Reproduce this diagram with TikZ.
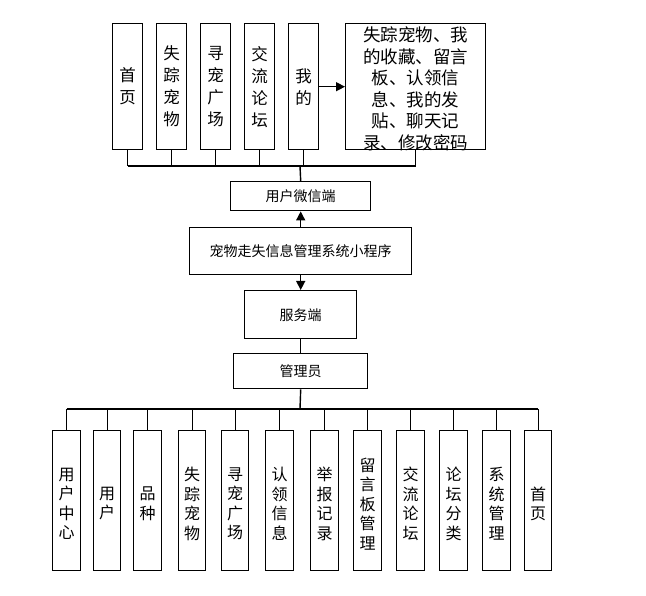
\documentclass[tikz,border=0pt]{standalone}
\usepackage{fontspec}
\setmainfont{Noto Sans CJK SC}
\usetikzlibrary{arrows.meta}
\begin{document}
\begin{tikzpicture}[x=1pt,y=-1pt,
  box/.style={draw,line width=1.4pt,inner sep=0pt,anchor=north west,align=center},
  vbox/.style={box},
  hbox/.style={box,font=\fontsize{14}{16}\selectfont},
  ln/.style={line width=1.4pt},
  ar/.style={line width=1.4pt,-{Triangle[length=9pt,width=9pt]}}]
\useasboundingbox (0,0) rectangle (646,596);
% top
\foreach \n/\x/\t in {t1/112/首\\页,t2/156/失\\踪\\宠\\物,t3/200/寻\\宠\\广\\场,t4/244/交\\流\\论\\坛,t5/288/我\\的}{
  \node[vbox,minimum width=30,minimum height=126] (\n) at (\x,23) {};
  \node[font=\fontsize{16.5}{22}\selectfont,align=center] at (\n.center) {\t};
}
\node[vbox,minimum width=140,minimum height=126] (big) at (345,23) {};
\node[font=\fontsize{17.5}{21.5}\selectfont,align=center] at ([yshift=-2]big.center) {失踪宠物、我\\的收藏、留言\\板、认领信\\息、我的发\\贴、聊天记\\录、修改密码};
\draw[ar] (t5.east) -- (big.west);
\node[hbox,minimum width=140,minimum height=29] (wx) at (230,181) {用户微信端};
\node[hbox,minimum width=222,minimum height=47] (sys) at (189,227) {宠物走失信息管理系统小程序};
\node[hbox,minimum width=112,minimum height=48] (srv) at (244,290) {服务端};
\node[hbox,minimum width=134,minimum height=35] (adm) at (233,353) {管理员};
\coordinate (tb) at (300,166);
\foreach \n in {t1,t2,t3,t4,t5,big}{\draw[ln] (\n.south) -- (\n.south |- tb);}
\draw[ln] (t1.south |- tb) -- (big.south |- tb);
\draw[ln] (tb) -- (wx.north);
\draw[ar] (sys.north) -- (wx.south);
\draw[ar] (sys.south) -- (srv.north);
\draw[ln] (srv.south) -- (adm.north);
% bottom
\coordinate (bb) at (300,409);
\draw[ln] (adm.south) -- (bb);
\foreach \n/\a/\b/\t in {b1/52/80/用\\户\\中\\心,b2/93/120/用\\户,b3/133/161/品\\种,b4/178/205/失\\踪\\宠\\物,b5/221/248/寻\\宠\\广\\场,b6/265/293/认\\领\\信\\息,b7/310/338/举\\报\\记\\录,b8/353/381/留\\言\\板\\管\\理,b9/396/424/交\\流\\论\\坛,b10/439/467/论\\坛\\分\\类,b11/482/510/系\\统\\管\\理,b12/524/551/首\\页}{
  \node[vbox,minimum width=\b-\a,minimum height=140] (\n) at (\a,430) {};
  \node[font=\fontsize{16}{19.5}\selectfont,align=center] at ([yshift=-3]\n.center) {\t};
  \draw[ln] (\n.north) -- (\n.north |- bb);
}
\draw[ln] (b1.north |- bb) -- (b12.north |- bb);
\end{tikzpicture}
\end{document}
